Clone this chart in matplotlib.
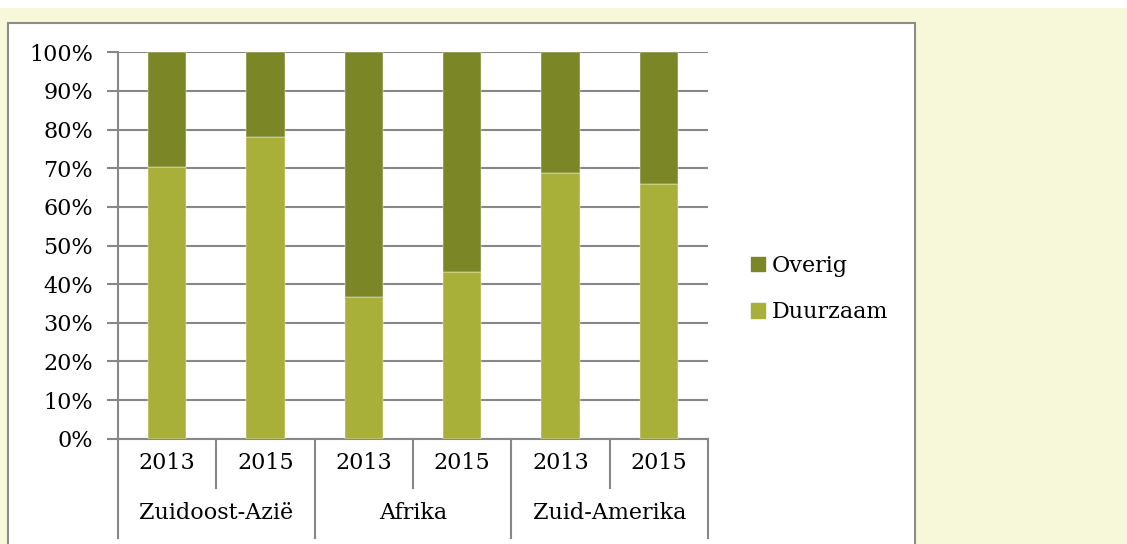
import matplotlib
matplotlib.use('Agg')
from matplotlib import pyplot as plt
from matplotlib.patches import Rectangle, Patch
import matplotlib.transforms as mtransforms
import numpy as np

regions = ['Zuidoost-Azië', 'Afrika', 'Zuid-Amerika']
years = ['2013', '2015']
duurzaam = [70.4, 78.1, 36.8, 43.1, 68.8, 66.0]
overig = [29.6, 21.9, 63.2, 56.9, 31.2, 34.0]

col_overig = '#7b8626'
col_duurzaam = '#a8b03a'
grid_col = '#878787'
fs = 16

plt.rcParams['font.family'] = ['DejaVu Serif']

fig = plt.figure(figsize=(11.27, 5.44), dpi=100)
fig.patch.set_facecolor('white')

# outer yellow page + white chart box
fig.patches.append(Rectangle((0, 0), 1, 1 - 8 / 544, transform=fig.transFigure,
                             facecolor='#f7f7da', edgecolor='none', zorder=0))
fig.patches.append(Rectangle((8 / 1127, -0.05), (915 - 8) / 1127, 1.05 - 23 / 544,
                             transform=fig.transFigure, facecolor='white',
                             edgecolor='#8c8c8c', linewidth=1.5, zorder=1))

ax = fig.add_axes([118 / 1127, 1 - 438.7 / 544, (708 - 118) / 1127, (438.7 - 52.3) / 544])
ax.set_facecolor('white')
ax.set_zorder(2)

x = np.arange(len(duurzaam))
w = 0.39
ax.bar(x, duurzaam, w, color=col_duurzaam, label='Duurzaam', zorder=3,
       edgecolor='white', linewidth=0.3)
ax.bar(x, overig, w, bottom=duurzaam, color=col_overig, label='Overig', zorder=3,
       edgecolor='white', linewidth=0.3)

ax.set_xlim(-0.5, len(x) - 0.5)
ax.set_ylim(0, 100)
ax.set_yticks(np.arange(0, 101, 10))
ax.set_yticklabels(['%d%%' % v for v in range(0, 101, 10)])
ax.yaxis.grid(True, color=grid_col, linewidth=1.5, zorder=1)
ax.set_axisbelow(True)
ax.tick_params(axis='y', length=8, width=1.5, color=grid_col, pad=10, labelsize=fs)
ax.set_xticks([])
for s in ['top', 'right']:
    ax.spines[s].set_visible(False)
for s in ['left', 'bottom']:
    ax.spines[s].set_color(grid_col)
    ax.spines[s].set_linewidth(1.5)

# two-level category axis
trans = mtransforms.blended_transform_factory(ax.transData, ax.transAxes)
y_year = -0.1276
y_group = -0.257
for i in range(len(x) + 1):
    xb = i - 0.5
    bottom = y_group if i % 2 == 0 else y_year
    ax.plot([xb, xb], [0, bottom], color=grid_col, lw=1.5, transform=trans,
            clip_on=False, zorder=4)
for i in range(len(x)):
    ax.text(i, -0.062, years[i % 2], transform=trans, ha='center', va='center',
            fontsize=fs)
for j, r in enumerate(regions):
    ax.text(2 * j + 0.5, -0.191, r, transform=trans, ha='center', va='center',
            fontsize=fs)

handles = [Patch(color=col_overig), Patch(color=col_duurzaam)]
fig.legend(handles, ['Overig', 'Duurzaam'], loc='center left',
           bbox_to_anchor=(731 / 1127, 1 - 289 / 544), frameon=False,
           fontsize=fs, handlelength=0.65, handleheight=0.65, handletextpad=0.3,
           labelspacing=1.1)

fig.savefig('out.png', dpi=100)
